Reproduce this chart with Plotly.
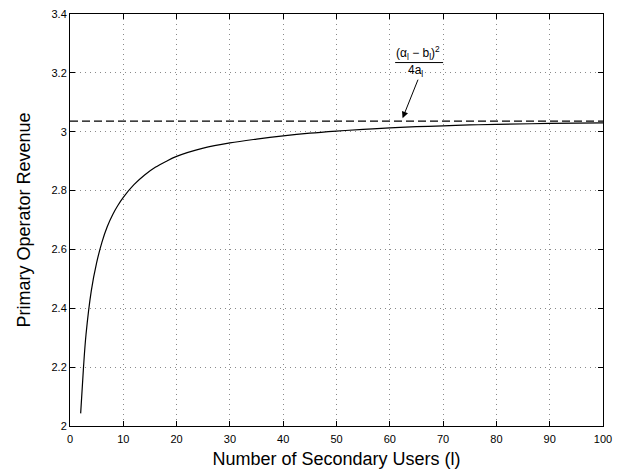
import plotly.graph_objects as go

users = [2, 2.5, 3, 4, 5, 6, 7, 8, 9, 10, 12, 14, 16, 18, 20, 25, 30, 35, 40, 45, 50,
         55, 60, 65, 70, 75, 80, 90, 100]
revenue = [2.043, 2.19, 2.31, 2.46, 2.555, 2.625, 2.678, 2.718, 2.750, 2.777, 2.82,
           2.853, 2.879, 2.899, 2.916, 2.944, 2.962, 2.975, 2.986, 2.995, 3.002,
           3.008, 3.013, 3.017, 3.020, 3.023, 3.025, 3.028, 3.030]
asymptote = 3.036
x_range = [0, 100]
y_range = [2, 3.4]
x_ticks = list(range(0, 101, 10))
y_ticks = [2, 2.2, 2.4, 2.6, 2.8, 3.0, 3.2, 3.4]
y_ticklabels = ["2", "2.2", "2.4", "2.6", "2.8", "3", "3.2", "3.4"]

font = "Liberation Sans, Arial, Helvetica, sans-serif"

fig = go.Figure()
fig.add_trace(go.Scatter(x=x_range, y=[asymptote, asymptote], mode="lines",
                         line=dict(color="black", width=1.2, dash="8px,4px"),
                         showlegend=False, hoverinfo="skip"))
fig.add_trace(go.Scatter(x=users, y=revenue, mode="lines", line_shape="spline",
                         line=dict(color="black", width=1.2), showlegend=False))

# annotation fraction
fig.add_annotation(x=65.3, y=3.266, xref="x", yref="y", showarrow=False,
                   text="(α<sub>l</sub> − b<sub>l</sub>)<sup>2</sup>",
                   font=dict(family=font, size=12, color="black"))
fig.add_annotation(x=64.9, y=3.207, xref="x", yref="y", showarrow=False,
                   text="4a<sub>l</sub>",
                   font=dict(family=font, size=12, color="black"))
fig.add_shape(type="line", xref="x", yref="y", x0=61.0, x1=70.0, y0=3.235, y1=3.235,
              line=dict(color="black", width=1))
fig.add_annotation(x=62.4, y=3.046, ax=16, ay=-40, xref="x", yref="y",
                   showarrow=True, arrowhead=2, arrowsize=1.3,
                   arrowwidth=1, arrowcolor="black", text="")

axis_common = dict(showline=True, linecolor="black", linewidth=1, mirror="ticks",
                   ticks="inside", ticklen=5, tickcolor="black",
                   showgrid=True, gridcolor="#8a8a8a", griddash="1px,4px", gridwidth=1,
                   zeroline=False, tickfont=dict(family=font, size=11, color="black"))

fig.update_xaxes(range=x_range, tickvals=x_ticks, ticklabelstandoff=3,
                 title=dict(text="Number of Secondary Users (l)",
                            font=dict(family=font, size=18, color="black"), standoff=8),
                 **axis_common)
fig.update_yaxes(range=y_range, tickvals=y_ticks, ticktext=y_ticklabels,
                 title=dict(text="Primary Operator Revenue",
                            font=dict(family=font, size=18, color="black"), standoff=16),
                 **axis_common)

fig.update_layout(width=626, height=474, paper_bgcolor="white", plot_bgcolor="white",
                  margin=dict(l=70, r=23, t=8, b=47), showlegend=False)

fig.write_html("out.html")
